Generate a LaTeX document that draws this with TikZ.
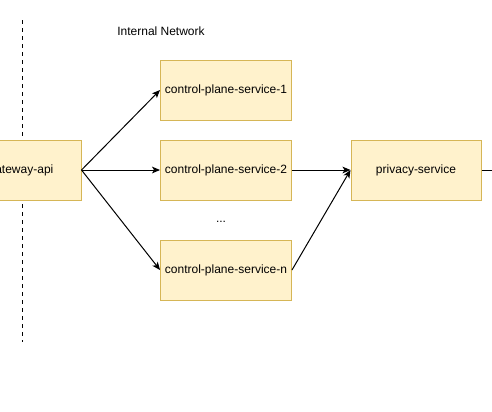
\documentclass[tikz,border=0pt]{standalone}
\usepackage{fontspec}
\setmainfont{Liberation Sans}
\usetikzlibrary{arrows.meta, positioning}
\definecolor{boxfill}{HTML}{FFF2CC}
\definecolor{boxline}{HTML}{D6B656}

\begin{document}
\begin{tikzpicture}[x=0.75pt, y=-0.75pt, >={Stealth[length=6pt, width=5pt, inset=1.5pt]},
    svcbox/.style={draw=boxline, fill=boxfill, line width=0.75pt,
        minimum width=97.5pt, minimum height=45pt, font=\fontsize{9}{11}\selectfont},
    flow/.style={->, line width=0.75pt}]
  \clip (0,0) rectangle (492,411);
  \useasboundingbox (0,0) rectangle (492,411);

  % Network boundary
  \coordinate (bndtop) at (22,20);
  \coordinate (bndbot) at (22,342);
  \draw[dashed, line width=0.75pt] (bndtop) -- (bndbot);
  \node[font=\fontsize{9}{11}\selectfont] (netlabel) at (161,31) {Internal Network};

  % Service nodes
  \node[svcbox, minimum width=90pt] (gw) at (21,170) {gateway-api};
  \node[svcbox] (cps1) at (226,90) {control-plane-service-1};
  \node[svcbox] (cps2) at (226,170) {control-plane-service-2};
  \node[font=\fontsize{9}{11}\selectfont] (dots) at (221,222) {...};
  \node[svcbox] (cpsn) at (226,270) {control-plane-service-n};
  \node[svcbox] (priv) at (416,170) {privacy-service};
  \coordinate (out) at (520,170);

  % Fan out from the gateway
  \draw[flow] (gw.east) -- (cps1.west);
  \draw[flow] (gw.east) -- (cps2.west);
  \draw[flow] (gw.east) -- (cpsn.west);

  % Into the privacy service
  \draw[flow] (cps2.east) -- (priv.west);
  \draw[flow] (cpsn.east) -- (priv.west);
  \draw[flow] (priv.east) -- (out);
\end{tikzpicture}
\end{document}
